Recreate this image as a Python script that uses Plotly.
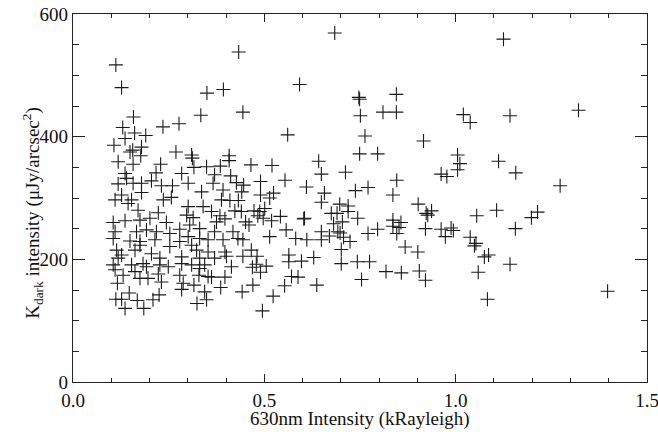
import plotly.graph_objects as go

# 630nm intensity (kRayleigh) and K_dark intensity (uJy/arcsec^2)
pts_a = [(0.112,517),(0.127,480),(0.350,471),(0.334,435),(0.158,432),(0.130,415),(0.235,416),(0.277,421),
         (0.161,406),(0.190,402),(0.136,397),(0.107,386),(0.179,383),(0.156,378),(0.149,375),(0.269,375),
         (0.310,370),(0.177,369)]
pts_b = [(0.393,477),(0.592,485),(0.433,538),(0.444,440),(0.561,403),(0.408,369)]
pts_c = [(0.684,569),(0.747,464),(0.749,461),(0.845,469),(0.751,434),(0.810,440),(0.845,440),(0.763,401),
         (0.916,393),(0.749,372),(0.796,372)]
pts_d = [(1.125,559),(1.020,436),(1.038,423),(1.142,434),(1.321,443),(1.005,370),(1.112,360)]
pts_e = [(1.011,356),(1.005,346),(1.157,341),(0.962,339),(0.977,335),(1.273,320),(1.055,271),(1.107,280),
         (1.198,268),(1.214,277),(1.156,250),(0.988,251),(0.994,247),(0.962,249),(0.973,237),(1.038,236),
         (1.053,226),(1.049,222),(1.075,204),(1.086,207),(1.142,192),(1.059,179),(1.083,135),(1.397,148)]
pts_f = [(0.712,342),(0.649,339),(0.846,329),(0.657,308),(0.738,312),(0.771,317),(0.836,305),(0.649,293),
         (0.697,290),(0.719,287),(0.719,278),(0.675,275),(0.690,275),(0.902,290),(0.923,275),(0.937,279),
         (0.927,272),(0.744,267),(0.681,258),(0.704,261),(0.836,264),(0.857,260),(0.836,254),(0.852,252),
         (0.846,242),(0.796,249),(0.771,242),(0.921,250),(0.649,245),(0.649,232),(0.670,238),(0.692,245),
         (0.698,243),(0.707,236),(0.724,229),(0.701,216),(0.868,220),(0.901,212),(0.701,193),(0.743,196),
         (0.775,196),(0.818,180),(0.858,178),(0.905,181),(0.921,166),(0.754,167)]
pts_g = [(0.408,361),(0.385,352),(0.465,354),(0.520,353),(0.642,360),(0.370,338),(0.412,336),(0.490,327),
         (0.554,329),(0.366,324),(0.427,325),(0.446,321),(0.610,318),(0.392,313),(0.441,310),(0.490,305),
         (0.524,308),(0.514,300),(0.388,297),(0.410,296),(0.432,296),(0.423,279),(0.440,278),(0.473,279),
         (0.488,278),(0.501,283),(0.362,278),(0.384,271),(0.397,266),(0.375,261),(0.483,271),(0.497,267),
         (0.519,263),(0.542,270),(0.451,261),(0.460,256),(0.603,266),(0.605,267),(0.557,248),(0.514,237),
         (0.582,234),(0.611,232),(0.370,245),(0.392,232),(0.418,245),(0.431,234),(0.444,232),(0.370,202),
         (0.397,212),(0.401,205),(0.444,205),(0.466,215),(0.481,205),(0.505,189),(0.414,188),(0.564,207),
         (0.564,196),(0.597,197),(0.629,203)]
pts_h = [(0.469,187),(0.479,192),(0.490,179),(0.397,171),(0.362,171),(0.386,154),(0.442,147),(0.470,158),
         (0.523,140),(0.553,157),(0.571,172),(0.588,171),(0.637,158),(0.495,116)]
pts_i = [(0.110,183),(0.131,174),(0.192,188),(0.162,180),(0.175,169),(0.196,169),(0.223,176),(0.231,163),
         (0.227,191),(0.284,193),(0.279,174),(0.288,161),(0.284,151),(0.331,185),(0.329,174),(0.353,172),
         (0.316,158),(0.344,147),(0.349,134),(0.324,128),(0.116,161),(0.112,135),(0.127,135),(0.136,120),
         (0.147,145),(0.168,133),(0.185,120),(0.209,134),(0.225,142)]
pts_j = [(0.312,365),(0.118,359),(0.157,355),(0.229,355),(0.217,341),(0.316,350),(0.349,351),(0.284,340),
         (0.136,340),(0.140,332),(0.118,323),(0.157,324),(0.179,324),(0.205,328),(0.231,320),(0.260,320),
         (0.301,324),(0.336,310),(0.179,309),(0.127,305),(0.110,297),(0.153,297),(0.236,297),(0.257,301),
         (0.144,291),(0.170,280),(0.223,276),(0.301,286),(0.340,286),(0.297,272),(0.314,268),(0.105,260),
         (0.136,263),(0.175,264),(0.201,267),(0.244,260),(0.279,249),(0.305,256),(0.331,250),(0.110,245),
         (0.166,245),(0.192,248),(0.218,245),(0.253,242),(0.301,237),(0.331,234),(0.353,232),(0.105,234),
         (0.149,230),(0.175,229),(0.214,232),(0.279,229),(0.310,223),(0.114,215),(0.127,207),(0.118,202),
         (0.162,215),(0.175,223),(0.205,209),(0.227,202),(0.253,221),(0.284,204),(0.323,215),(0.331,202),
         (0.353,212),(0.105,191),(0.153,191),(0.183,193),(0.249,188),(0.310,191),(0.344,191)]

groups = [pts_a, pts_b, pts_c, pts_d, pts_e, pts_f, pts_g, pts_h, pts_i, pts_j]
x_vals = [p[0] for g in groups for p in g]
y_vals = [p[1] for g in groups for p in g]

x_ticks = [0.0, 0.5, 1.0, 1.5]
x_tick_labels = ["0.0", "0.5", "1.0", "1.5"]
y_ticks = [0, 200, 400, 600]
y_tick_labels = ["0", "200", "400", "600"]
x_title = "630nm Intensity (kRayleigh)"
y_title = "K<sub>dark</sub> intensity (μJy/arcsec<sup>2</sup>)"

FONT = "Liberation Serif"
TXT = dict(family=FONT, size=19, color="#111")

fig = go.Figure(go.Scatter(
    x=x_vals, y=y_vals, mode="markers",
    marker=dict(symbol="cross-thin-open", size=10, color="#1a1a1a",
                line=dict(color="#1a1a1a", width=1.1)),
    hoverinfo="skip", showlegend=False))

axis_common = dict(showgrid=False, zeroline=False, showline=True, linecolor="#222",
                   linewidth=1.3, mirror="ticks", ticks="inside", tickcolor="#222",
                   automargin=False, ticklabeloverflow="allow", tickfont=TXT)

fig.update_xaxes(range=[0, 1.5], tickvals=x_ticks, ticktext=x_tick_labels,
                 ticklen=8, tickwidth=1, ticklabelstandoff=1,
                 minor=dict(dtick=0.1, ticks="inside", ticklen=4, tickcolor="#222"),
                 **axis_common)
fig.update_yaxes(range=[0, 600], tickvals=y_ticks, ticktext=y_tick_labels,
                 ticklen=12, tickwidth=1,
                 minor=dict(dtick=50, ticks="inside", ticklen=6, tickcolor="#222"),
                 **axis_common)

fig.add_annotation(text=y_title, xref="paper", yref="paper", x=-0.0697, y=0.46,
                   xanchor="center", yanchor="middle", textangle=-90, showarrow=False,
                   font=TXT)
fig.add_annotation(text=x_title, xref="paper", yref="paper", x=0.5, y=-0.101,
                   xanchor="center", yanchor="middle", showarrow=False, font=TXT)

fig.update_layout(width=658, height=432, plot_bgcolor="white", paper_bgcolor="white",
                  font=dict(family=FONT),
                  margin=dict(l=73, r=11, t=14, b=50))

fig.write_html("out.html")
